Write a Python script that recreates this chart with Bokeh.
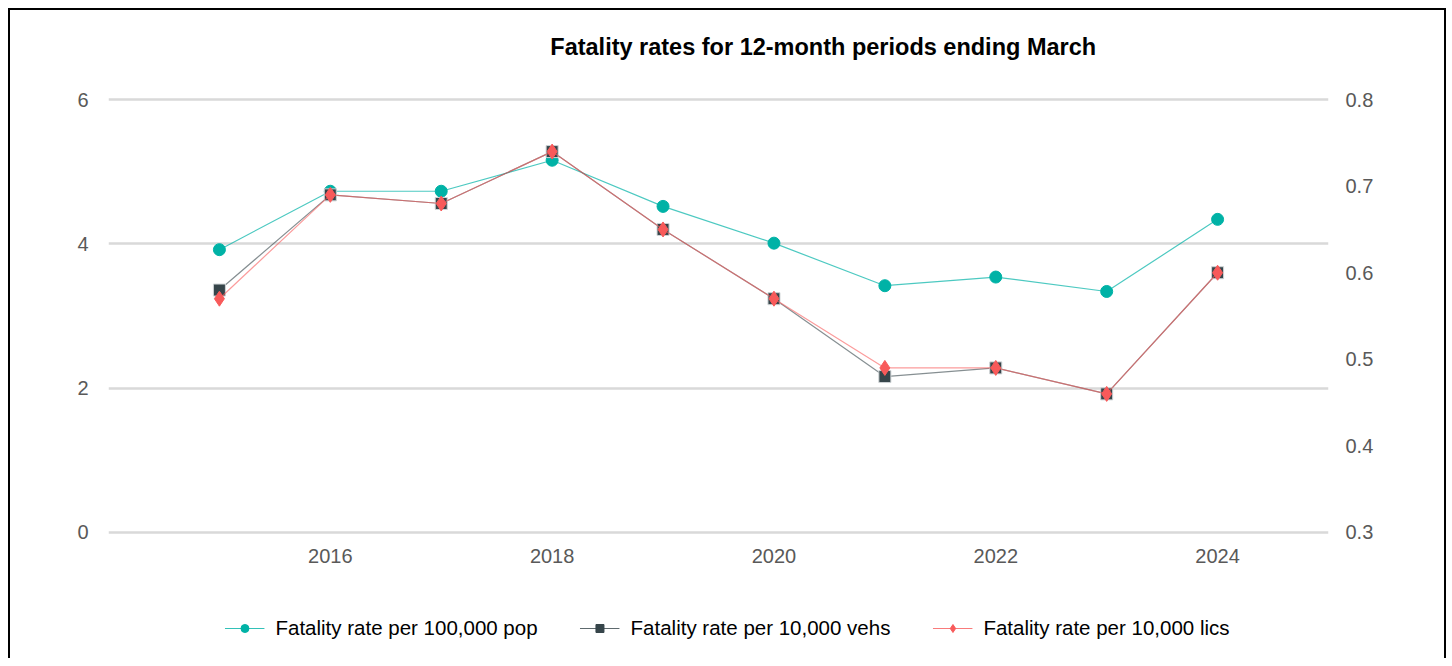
from bokeh.plotting import figure
from bokeh.layouts import column
from bokeh.models import Range1d, LinearAxis, FixedTicker, Legend, LegendItem, Label
from bokeh.embed import file_html
from bokeh.resources import INLINE

title_text = "Fatality rates for 12-month periods ending March"
years = [2015, 2016, 2017, 2018, 2019, 2020, 2021, 2022, 2023, 2024]
pop_rate = [3.92, 4.73, 4.73, 5.16, 4.52, 4.01, 3.42, 3.54, 3.34, 4.34]
veh_rate = [0.58, 0.69, 0.68, 0.74, 0.65, 0.57, 0.48, 0.49, 0.46, 0.60]
lic_rate = [0.57, 0.69, 0.68, 0.74, 0.65, 0.57, 0.49, 0.49, 0.46, 0.60]
left_ticks = [0, 2, 4, 6]
right_ticks = [0.3, 0.4, 0.5, 0.6, 0.7, 0.8]
x_ticks = [2016, 2018, 2020, 2022, 2024]
labels = ["Fatality rate per 100,000 pop", "Fatality rate per 10,000 vehs",
          "Fatality rate per 10,000 lics"]

FONT = "Liberation Sans"
TEAL = "#00b2a6"
DARK = "#36454a"
RED = "#f85a5a"

# ---- title strip ----
tf = figure(frame_width=1434, frame_height=60, output_backend="svg", toolbar_location=None,
            x_axis_type=None, y_axis_type=None, x_range=Range1d(0, 1), y_range=Range1d(0, 60),
            min_border_left=0, min_border_right=0, min_border_top=0, min_border_bottom=0)
tf.styles = {"border-left": "2px solid black", "border-right": "2px solid black",
             "border-top": "2px solid black", "margin-left": "8px", "margin-top": "8px"}
tf.outline_line_color = None
tf.add_layout(Label(x=0.497, y=25, text=title_text, text_align="center", text_baseline="middle",
                    text_font=FONT, text_font_size="23.5px", text_font_style="bold",
                    text_color="black"))

# ---- main chart ----
pad = 0.03
p = figure(frame_width=1216, frame_height=437, output_backend="svg", toolbar_location=None,
           x_range=Range1d(2014, 2025), y_range=Range1d(0 - pad, 6 + pad),
           min_border_left=98, min_border_right=120, min_border_top=27, min_border_bottom=64)
p.styles = {"border-left": "2px solid black", "border-right": "2px solid black",
            "margin-left": "8px"}
p.outline_line_color = None
p.title.text = ""
p.title.standoff = 0
p.title.visible = False
p.extra_y_ranges = {"right": Range1d(0.3 - pad * 0.5 / 6, 0.8 + pad * 0.5 / 6)}

xax = p.below[0]
yax = p.left[0]
raxis = LinearAxis(y_range_name="right")
p.add_layout(raxis, "right")

xax.ticker = FixedTicker(ticks=x_ticks)
yax.ticker = FixedTicker(ticks=left_ticks)
raxis.ticker = FixedTicker(ticks=right_ticks)
for ax in [xax, yax, raxis]:
    ax.axis_line_color = None
    ax.major_tick_line_color = None
    ax.minor_tick_line_color = None
    ax.major_tick_out = 0
    ax.minor_tick_out = 0
    ax.major_label_text_font = FONT
    ax.major_label_text_font_size = "20px"
    ax.major_label_text_color = "#595959"
yax.major_label_standoff = 20
raxis.major_label_standoff = 17
xax.major_label_standoff = 14

p.xgrid.grid_line_color = None
p.ygrid.grid_line_color = "#d9d9d9"
p.ygrid.grid_line_width = 2.5

p.line(years, pop_rate, line_color=TEAL, line_alpha=0.7, line_width=1.2)
p.scatter(years, pop_rate, marker="circle", size=12, fill_color=TEAL, line_color=TEAL)
p.line(years, veh_rate, y_range_name="right", line_color=DARK, line_alpha=0.6, line_width=1.2)
p.scatter(years, veh_rate, y_range_name="right", marker="square", size=12,
          fill_color=DARK, line_color="#cfd4d6", line_width=1)
p.line(years, lic_rate, y_range_name="right", line_color=RED, line_alpha=0.6, line_width=1.2)
p.scatter(years, lic_rate, y_range_name="right", marker="diamond", size=15,
          fill_color=RED, line_color=RED)

# ---- legend strip ----
lg = figure(frame_width=1406, frame_height=60, output_backend="svg", toolbar_location=None,
            x_axis_type=None, y_axis_type=None, x_range=Range1d(0, 1), y_range=Range1d(0, 1),
            min_border_left=0, min_border_right=28, min_border_top=0, min_border_bottom=0)
lg.styles = {"border-left": "2px solid black", "border-right": "2px solid black",
             "margin-left": "8px"}
lg.outline_line_color = None
# legend renderers reuse the data, which lies outside this strip's ranges (not visible)
r1 = [lg.line(years, pop_rate, line_color=TEAL, line_alpha=0.8, line_width=1.2),
      lg.scatter(years, pop_rate, marker="circle", size=10, fill_color=TEAL, line_color=TEAL)]
r2 = [lg.line(years, veh_rate, line_color=DARK, line_alpha=0.8, line_width=1.2),
      lg.scatter(years, veh_rate, marker="square", size=10, fill_color=DARK, line_color=DARK)]
r3 = [lg.line(years, lic_rate, line_color=RED, line_alpha=0.8, line_width=1.2),
      lg.scatter(years, lic_rate, marker="diamond", size=12, fill_color=RED, line_color=RED)]

legend = Legend(items=[
    LegendItem(label=labels[0], renderers=r1),
    LegendItem(label=labels[1], renderers=r2),
    LegendItem(label=labels[2], renderers=r3),
], orientation="horizontal", location="center")
legend.label_text_font = FONT
legend.label_text_font_size = "20.5px"
legend.label_text_color = "black"
legend.border_line_color = None
legend.background_fill_alpha = 0
legend.glyph_width = 40
legend.glyph_height = 20
legend.spacing = 42
legend.margin = 0
legend.padding = 5
legend.label_standoff = 11
lg.add_layout(legend, "center")

layout = column(tf, p, lg, spacing=0)
open("out.html", "w").write(file_html(layout, INLINE))
